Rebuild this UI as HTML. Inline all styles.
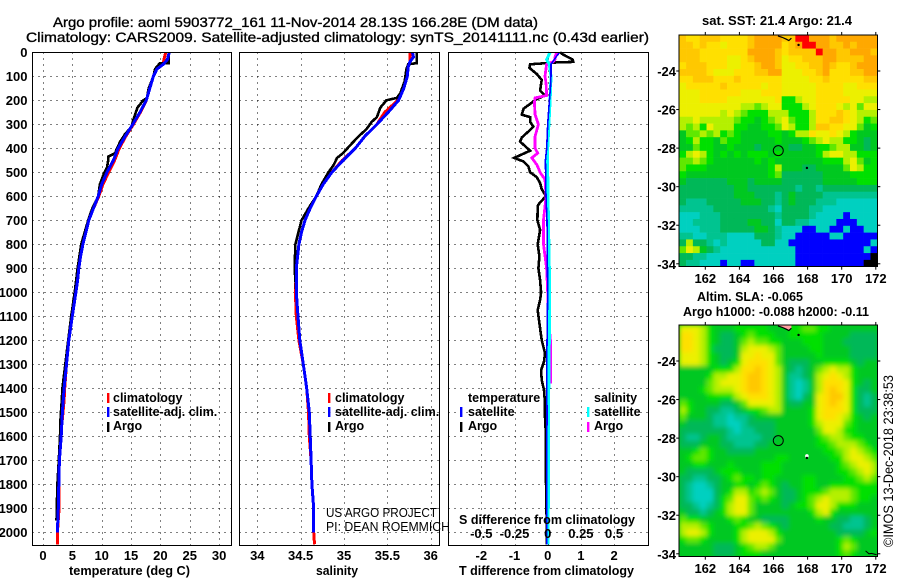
<!DOCTYPE html>
<html>
<head>
<meta charset="utf-8">
<title>Argo profile</title>
<style>
html,body{margin:0;padding:0;background:#fff;}
svg{display:block;}
text{font-family:"Liberation Sans",sans-serif;fill:#000;}
.b{font-weight:bold;font-size:13px;}
.t{font-size:14px;stroke:#000;stroke-width:.35px;}
.l{font-size:12.5px;font-weight:bold;}
</style>
</head>
<body>
<svg id="chart" xmlns="http://www.w3.org/2000/svg" width="900" height="580" viewBox="0 0 900 580">
<defs>
<filter id="smooth" x="-5%" y="-5%" width="110%" height="110%"><feGaussianBlur stdDeviation="2.4"/></filter>
<clipPath id="sla-clip"><rect x="679.3" y="325" width="198" height="231.8"/></clipPath>
</defs>
<rect x="0" y="0" width="900" height="580" fill="#fff"/>
<g id="plots"></g>
<text class="t" x="53" y="27" textLength="485" lengthAdjust="spacingAndGlyphs">Argo profile: aoml 5903772_161 11-Nov-2014 28.13S 166.28E (DM data)</text>
<text class="t" x="26" y="42" textLength="623" lengthAdjust="spacingAndGlyphs">Climatology: CARS2009. Satellite-adjusted climatology: synTS_20141111.nc (0.43d earlier)</text>
<text class="l" x="702" y="25" textLength="150" lengthAdjust="spacingAndGlyphs">sat. SST: 21.4 Argo: 21.4</text>
<text class="l" x="697" y="301" textLength="106" lengthAdjust="spacingAndGlyphs">Altim. SLA: -0.065</text>
<text class="l" x="683" y="316" textLength="186" lengthAdjust="spacingAndGlyphs">Argo h1000: -0.088 h2000: -0.11</text>
<text class="b" x="69" y="575" textLength="121" lengthAdjust="spacingAndGlyphs">temperature (deg C)</text>
<text class="b" x="316" y="575" textLength="42" lengthAdjust="spacingAndGlyphs">salinity</text>
<text class="b" x="459" y="575" textLength="175" lengthAdjust="spacingAndGlyphs">T difference from climatology</text>
<text class="b" x="459" y="524" textLength="176" lengthAdjust="spacingAndGlyphs">S difference from climatology</text>
<text x="326" y="517" font-size="12.5" textLength="111" lengthAdjust="spacingAndGlyphs">US ARGO PROJECT</text>
<text x="326" y="531" font-size="12.5" textLength="124" lengthAdjust="spacingAndGlyphs">PI: DEAN ROEMMICH</text>
<text transform="translate(893,547) rotate(-90)" font-size="13.5" textLength="172" lengthAdjust="spacingAndGlyphs">©IMOS 13-Dec-2018 23:38:53</text>
</svg>
<script>
// ---------- profile data ----------
const tempClimDepth = [0,30,50,70,100,150,200,250,300,350,400,450,500,550,600,650,700,750,800,850,900,950,1000,1100,1200,1300,1400,1450,1500,1550,1600,1700,1800,1900,2000,2050];
const tempClim = [20.9,20.6,20.5,19.4,18.8,18.2,17.6,16.6,15.4,14.1,13,12.2,11.2,10.2,9.5,8.6,7.8,7.3,6.8,6.4,6.1,5.9,5.6,5,4.4,4,3.7,3.6,3.4,3.2,3.1,2.8,2.7,2.75,2.45,2.45];
const tempSatDepth = [0,30,50,70,100,150,200,250,300,350,400,450,500,550,600,650,700,750,800,850,900,950,1000,1100,1200,1300,1400,1500,1600,1700,1800,1900,2000];
const tempSat = [21.5,21.2,20.5,19.4,18.8,18.2,17.6,16.5,15.3,14,12.8,12,10.9,10,9.4,8.6,7.8,7.3,6.8,6.4,6.1,5.9,5.6,5,4.4,4,3.6,3.3,3.1,2.8,2.7,2.6,2.45];
const tempArgoDepth = [0,45,46,60,70,100,150,190,200,230,280,310,340,370,400,420,435,450,480,510,550,600,650,700,800,900,1000,1100,1200,1300,1400,1450,1520,1600,1700,1800,1950];
const tempArgo = [21.4,21.4,19.9,19.4,19.1,18.8,18,17.7,17.1,16.1,15.4,15.1,14,13.2,12.6,12.3,11.1,11.1,10.9,10.3,9.7,9.4,8.4,7.7,6.5,5.9,5.4,4.8,4.3,3.8,3.3,3.2,3,2.9,2.7,2.45,2.3];

const salClimDepth = [0,20,40,60,100,150,200,250,300,350,400,450,500,550,600,650,700,750,800,900,1000,1100,1200,1300,1400,1500,1600,1700,1800,1900,2000,2050];
const salClim = [35.76,35.76,35.76,35.74,35.72,35.68,35.62,35.47,35.38,35.24,35.13,34.98,34.86,34.75,34.68,34.61,34.55,34.51,34.48,34.45,34.44,34.45,34.48,34.53,34.57,34.59,34.6,34.62,34.63,34.65,34.65,34.66];
const salSatDepth = [0,20,40,60,100,150,200,250,300,350,400,450,500,550,600,650,700,750,800,900,1000,1100,1200,1300,1400,1500,1600,1700,1800,1900,2000];
const salSat = [35.79,35.8,35.76,35.74,35.73,35.69,35.63,35.51,35.38,35.24,35.13,34.99,34.86,34.76,34.68,34.61,34.55,34.51,34.48,34.45,34.45,34.47,34.49,34.53,34.57,34.6,34.61,34.62,34.63,34.65,34.65];
const salArgoDepth = [0,45,50,70,120,170,190,200,230,270,290,320,350,380,420,440,470,500,550,600,650,700,800,900,1000,1100,1200];
const salArgo = [35.84,35.84,35.74,35.72,35.7,35.65,35.61,35.49,35.42,35.38,35.32,35.26,35.17,35.09,34.99,34.92,34.88,34.82,34.74,34.68,34.59,34.51,34.44,34.43,34.45,34.47,34.49];

const diffTArgoDepth = [0,10,30,40,42,50,65,90,115,160,180,195,210,235,260,270,290,310,330,355,372,410,440,455,475,500,520,545,570,600,625,640,700,740,800,850,900,950,1000,1032,1074,1129,1199,1254,1289,1324,1365,1407,1463,1519,1602,1782,1963,2050];
const diffTArgo = [.37,.47,.75,.77,.27,-.53,-.55,-.33,-.18,-.23,-.08,-.33,-.48,-.73,-.78,-.53,-.53,-.43,-.58,-.78,-.83,-.53,-1.01,-.73,-.58,-.53,-.33,-.23,-.18,-.05,-.23,-.3,-.31,-.23,-.3,-.25,-.28,-.23,-.2,-.23,-.3,-.25,-.18,-.08,-.11,-.2,-.18,-.11,-.08,-.08,-.05,-.05,-.03,-.02];
const diffTSatDepth = [0,10,30,50,100,150,200,300,400,450,600,700,1000,1300,1500,1900,2000,2050];
const diffTSat = [.37,.3,.2,.1,.1,.08,.05,0,-.03,-.07,-.05,-.02,0,-.03,-.02,-.03,-.03,-.03];
const diffSSatDepth = [0,30,50,100,200,400,500,700,900,1050,1200,1500,2000,2050];
const diffSSat = [.018,-.008,.012,.025,.018,0,0,.005,.012,.015,.012,.006,.004,.004];
const diffSArgoDepth = [0,20,30,40,50,100,130,180,190,210,260,300,350,400,420,440,470,500,530,600,700,800,900,1000,1100,1200,1280,1380];
const diffSArgo = [.068,.055,.055,.04,-.008,-.02,-.012,-.008,-.095,-.1,-.095,-.07,-.095,-.095,-.075,-.12,-.08,-.058,-.02,-.012,-.032,-.032,-.008,0,.005,.02,.022,.02];

// ---------- tick labels ----------
const depthTicks = [0,100,200,300,400,500,600,700,800,900,1000,1100,1200,1300,1400,1500,1600,1700,1800,1900,2000];
const tempTicks = [0,5,10,15,20,25,30];
const salTicks = [34,34.5,35,35.5,36];
const diffTTicks = [-2,-1,0,1,2];
const diffSTicks = [-0.5,-0.25,0,0.25,0.5];
const lonTicks = [162,164,166,168,170,172];
const latTicks = [-24,-26,-28,-30,-32,-34];
const profileLon = [166.28];
const profileLat = [-28.13];

// ---------- map grids (colour-level per cell) ----------
const sstLevels = [
[10,9,9,10,10,10,9,9,9,9,10,11,11,11,11,10,10,12,12,11,11,11,10,11,11,11,11,11,11],
[10,10,9,10,9,9,8,9,9,9,10,11,11,11,11,9,10,11,12,12,11,11,10,10,11,10,11,11,11],
[10,10,10,9,9,9,9,9,9,9,11,11,11,11,10,9,10,10,10,10,12,11,11,10,10,11,11,11,10],
[10,10,10,9,9,9,9,8,8,9,10,11,11,11,10,8,9,9,10,10,10,11,11,10,10,10,10,11,11],
[9,10,10,10,9,9,9,8,8,9,9,10,11,11,10,8,8,9,9,10,10,11,10,9,9,10,11,11,11],
[10,10,10,10,9,8,8,8,9,9,9,10,10,11,11,8,8,8,9,9,10,11,9,9,9,10,10,11,11],
[9,9,10,10,10,9,9,9,10,9,9,9,9,9,9,8,8,8,8,9,9,10,9,9,9,9,9,10,10],
[8,9,9,9,9,9,10,9,9,9,9,9,8,9,9,8,8,8,8,8,9,9,9,9,8,8,9,9,9],
[8,8,8,9,9,9,9,9,9,8,8,8,9,9,9,8,8,8,8,8,9,9,9,9,8,8,8,8,8],
[8,8,8,9,9,9,9,8,8,8,8,8,8,8,9,5,5,7,8,8,9,9,9,9,9,8,8,7,7],
[8,8,8,8,8,8,8,8,8,7,7,6,7,8,8,5,5,5,7,8,9,9,9,8,7,8,6,8,8],
[8,8,8,8,8,8,7,8,7,6,5,5,5,7,7,7,5,5,5,7,9,9,9,10,9,8,7,7,7],
[7,7,8,7,7,7,7,7,6,5,5,4,5,6,7,8,6,5,5,7,9,9,10,10,9,8,7,5,6],
[7,6,7,5,8,7,7,7,5,5,4,4,5,5,6,8,7,5,5,7,10,10,9,9,8,8,6,4,5],
[4,6,6,7,6,7,5,6,5,4,4,4,4,5,5,4,5,7,7,9,8,8,9,8,7,5,4,4,4],
[4,5,7,5,5,4,6,5,5,4,4,4,4,4,5,4,4,4,5,6,7,8,7,7,5,5,4,3,4],
[4,4,6,5,5,4,4,5,4,4,4,3,4,4,4,4,3,3,4,4,5,5,6,7,7,4,4,3,4],
[5,7,8,7,5,4,5,4,5,4,5,5,5,4,5,4,4,4,4,4,5,7,8,8,7,7,5,5,5],
[6,6,7,6,5,4,4,4,4,4,4,5,4,5,4,4,4,4,4,4,4,5,5,5,7,8,6,4,5],
[6,5,5,5,4,4,4,4,4,4,4,4,4,5,7,4,4,4,3,3,4,4,4,4,6,8,7,5,5],
[5,4,4,4,4,4,4,4,4,4,4,4,4,5,6,3,3,3,3,3,3,4,4,4,4,5,5,5,5],
[4,3,3,3,3,3,3,4,4,4,3,4,4,4,4,3,3,3,3,3,3,4,4,4,4,4,5,5,5],
[3,3,3,3,3,3,3,3,4,4,3,3,3,3,3,3,3,2,3,3,2,3,3,3,3,3,3,3,3],
[3,3,3,3,3,3,3,3,4,4,4,3,3,3,2,3,4,3,3,3,3,2,2,2,2,2,2,2,2],
[3,2,2,2,3,3,3,3,3,4,4,4,3,3,2,3,4,3,3,3,2,2,2,1,1,1,1,1,1],
[2,2,2,2,2,3,3,3,3,3,3,3,3,2,1,3,3,3,3,2,2,1,1,1,1,1,1,1,1],
[1,1,1,2,2,2,3,3,3,3,3,3,3,3,2,3,3,3,3,2,1,1,1,1,0,1,1,1,1],
[1,1,2,2,2,2,3,3,3,3,4,4,3,3,1,3,3,2,2,1,1,1,1,0,0,0,1,1,1],
[1,1,1,2,2,2,3,3,3,3,3,4,4,3,2,1,1,1,0,0,1,1,0,0,1,0,0,1,1],
[2,2,1,1,2,2,2,1,1,1,1,3,3,3,2,1,1,0,0,0,0,0,1,1,0,0,0,0,0],
[3,7,3,3,2,1,2,1,1,1,1,1,3,3,1,1,0,0,0,0,0,0,0,0,0,0,0,0,1],
[6,8,7,4,3,2,1,1,1,1,1,1,1,1,1,1,1,0,0,0,0,0,0,0,0,0,0,1,0],
[3,3,2,2,1,1,1,1,1,1,1,1,1,1,1,1,1,0,0,0,0,0,0,0,0,0,0,0,13],
[3,2,2,1,1,1,0,1,1,0,0,1,1,1,1,1,1,0,0,0,0,0,0,0,0,0,0,13,13]
];
const slaLevels = [
[8,8,8,7,5,4,4,4,5,5,5,5,5,4,4,4,5,5,6,6,5,5,4,4,4,4,4,4,4],
[9,9,8,7,5,4,3,3,4,5,6,5,5,5,4,4,5,5,5,5,5,4,4,4,4,3,3,3,3],
[9,9,8,7,5,4,3,3,4,6,7,6,6,5,5,4,4,4,5,5,5,4,4,4,3,3,3,3,3],
[9,9,8,7,5,3,3,3,4,7,8,8,8,7,6,4,4,4,4,5,5,4,4,4,4,3,3,3,3],
[8,8,8,7,5,4,3,3,4,8,8,9,8,8,6,4,4,4,4,4,5,4,4,4,4,3,3,3,3],
[8,8,8,7,5,4,3,4,5,8,9,9,9,8,6,4,3,3,3,4,4,5,5,5,5,4,3,4,4],
[4,4,4,4,4,5,5,5,7,9,9,10,9,8,7,4,3,2,3,4,6,7,8,7,7,5,4,4,4],
[4,4,4,4,5,7,7,8,8,9,10,10,9,8,7,4,2,2,3,4,7,8,9,8,7,5,4,4,4],
[4,4,4,4,6,7,8,8,8,9,10,10,9,8,7,4,2,1,2,4,7,9,9,9,8,5,4,3,4],
[4,4,4,5,6,7,7,7,8,9,10,10,9,8,7,4,2,1,2,4,7,9,10,9,8,5,3,3,4],
[4,4,4,4,5,5,5,5,7,8,9,9,9,8,7,4,2,1,3,4,8,9,10,10,8,5,3,2,3],
[6,5,4,4,4,4,3,3,4,6,8,8,8,8,7,4,3,3,4,4,8,9,10,9,8,5,3,2,3],
[7,5,4,4,3,3,2,2,3,4,5,5,6,7,7,4,4,4,4,5,8,9,9,9,8,5,3,3,3],
[6,4,4,4,3,2,2,1,2,2,3,4,4,4,4,4,4,4,4,5,8,9,9,8,7,5,4,3,4],
[4,3,3,3,3,2,2,1,1,2,3,3,3,3,4,4,4,4,4,5,7,8,8,8,6,5,4,4,4],
[3,3,3,3,3,3,3,2,1,2,2,3,3,3,4,4,4,4,4,4,6,8,8,7,5,5,4,4,4],
[3,2,2,3,4,4,3,2,2,2,2,2,3,3,4,4,4,4,4,4,5,6,7,7,6,5,5,4,4],
[3,3,3,4,4,4,3,3,2,2,2,3,3,4,4,4,4,4,4,4,5,5,6,7,7,7,6,5,4],
[4,4,5,6,5,4,4,3,3,3,3,4,4,4,4,4,4,4,4,4,4,5,5,6,7,8,7,6,5],
[4,5,6,6,5,4,4,4,4,4,4,4,4,4,5,5,4,4,4,4,4,4,5,5,7,8,8,7,6],
[4,4,5,5,4,4,4,5,4,4,4,4,5,5,5,4,4,4,4,4,4,4,4,5,6,7,8,8,7],
[4,3,3,3,3,4,5,5,5,4,4,4,5,5,5,4,4,4,4,4,4,4,4,5,5,6,7,8,7],
[3,3,2,2,3,3,4,5,6,5,5,4,5,5,4,4,4,4,5,5,4,4,4,4,5,5,6,7,6],
[3,2,1,1,2,3,4,4,5,5,4,5,6,5,4,3,4,4,5,5,4,4,5,5,5,5,5,5,5],
[3,2,1,1,1,3,4,5,7,7,5,6,7,6,4,3,3,4,5,5,5,6,7,7,7,6,5,5,5],
[3,2,1,1,1,3,5,6,8,8,6,5,6,5,4,3,3,4,5,6,7,8,7,7,7,6,5,5,4],
[3,3,2,1,2,3,5,7,8,8,6,4,4,4,4,3,4,5,5,6,8,8,7,5,5,5,4,4,4],
[4,3,3,2,3,4,5,7,8,8,6,4,4,4,4,4,4,4,4,5,7,8,5,4,4,4,4,4,4],
[6,5,5,4,4,4,4,5,6,5,4,4,3,3,3,3,4,4,4,4,5,4,4,3,3,2,2,3,4],
[7,7,7,6,5,4,4,4,5,5,6,7,6,5,4,3,4,4,4,4,4,4,3,3,2,2,2,3,4],
[7,8,8,7,5,4,4,4,5,7,8,8,8,7,5,4,4,4,4,4,4,4,4,3,3,3,3,4,5],
[5,6,6,5,4,4,4,4,5,7,8,8,8,8,6,4,4,4,4,4,4,4,4,5,6,5,4,4,4],
[4,4,4,4,4,3,3,3,4,5,6,7,7,6,4,4,4,4,4,4,4,4,4,5,7,6,4,4,4],
[4,4,4,4,4,3,3,3,4,5,5,5,4,4,4,4,4,4,4,4,4,4,4,5,6,5,4,4,4]
];
const coastLon = [166.26,166.5,166.75,166.9,167.05];
const coastLat = [-22.18,-22.25,-22.35,-22.42,-22.3];
const islandLon = [167.47,167.96];
const islandLat = [-22.65,-29.03];
const southCoastLon = [171.4,171.6,171.75,172.05];
const southCoastLat = [-33.85,-34,-33.98,-34.05];

// ---------- styling ----------
const levelColours = ['#0000ff','#00d0c0','#00c490','#00b858','#00c820','#00e000','#60e800','#b4f000','#ecf000','#ffe000','#ffc800','#ffa800','#ff0000','#000000'];
const NS = 'http://www.w3.org/2000/svg';
const root = document.getElementById('plots');

function make(tag, attrs, parent) {
  const el = document.createElementNS(NS, tag);
  for (const k in attrs) el.setAttribute(k, attrs[k]);
  (parent || root).appendChild(el);
  return el;
}

// ---------- axis functions ----------
const yDepth = d => 52.3 + d * 0.24;
const xTemp = v => 43 + v * 5.87;
const xSal = v => 257.3 + (v - 34) * 86.7;
const xDiffT = v => 547.7 + v * 33.2;
const xDiffS = v => 547.7 + v * 132.8;
const lonX = v => 705.3 + (v - 162) * 17.05;
const latOffset = v => (-24 - v) * 19.28;
const lonMin = 160.47, lonMax = 172.09, latMax = -22.13, latMin = -34.15;

const panels = [
  {key:'temperature', left:32.5, right:231.5},
  {key:'salinity', left:239.5, right:439.5},
  {key:'difference', left:448.5, right:648.5}
];
const panelTop = 52.5, panelBottom = 545.5;

function series(xs, ds, xf, colour, width, name, parent) {
  const pts = xs.map((v, i) => xf(v).toFixed(1) + ',' + yDepth(ds[i]).toFixed(1)).join(' ');
  const el = make('polyline', {points: pts, fill: 'none', stroke: colour, 'stroke-width': width, 'shape-rendering': 'crispEdges'}, parent);
  
  
}

function label(str, x, y, anchor, cls, parent) {
  const t = make('text', {x: x, y: y, 'text-anchor': anchor, class: cls}, parent);
  t.textContent = str;
  
  
  return t;
}

function grid(x1, y1, x2, y2) {
  const g = make('line', {x1: x1, y1: y1, x2: x2, y2: y2, stroke: '#000', 'stroke-width': 1, 'stroke-dasharray': '1 5', 'shape-rendering': 'crispEdges'});
  
  
}

function frame(x, y, w, h, nameStr) {
  const r = make('rect', {x: x, y: y, width: w, height: h, fill: 'none', stroke: '#000', 'stroke-width': 1.4, 'shape-rendering': 'crispEdges'});
  
  
}

function legendBar(x, y, colour) {
  const r = make('rect', {x: x, y: y, width: 2.4, height: 10, fill: colour});
  
  
}

function legendText(str, x, y) {
  const t = make('text', {x: x, y: y, class: 'l'});
  t.textContent = str;
  
  
}

// ---------- profile panels ----------
panels.forEach(p => {
  depthTicks.forEach(d => grid(p.left, Math.round(yDepth(d)) + .5, p.right, Math.round(yDepth(d)) + .5));
});
tempTicks.forEach(v => grid(Math.round(xTemp(v)) + .5, panelTop, Math.round(xTemp(v)) + .5, panelBottom));
salTicks.forEach(v => grid(Math.round(xSal(v)) + .5, panelTop, Math.round(xSal(v)) + .5, panelBottom));
diffTTicks.forEach(v => grid(Math.round(xDiffT(v)) + .5, panelTop, Math.round(xDiffT(v)) + .5, panelBottom));

series(tempClim, tempClimDepth, xTemp, '#ff0000', 3, 'temperature-climatology-line');
series(tempArgo, tempArgoDepth, xTemp, '#000000', 2.6, 'temperature-argo-line');
series(tempSat, tempSatDepth, xTemp, '#0000ff', 3, 'temperature-satellite-line');
series(salClim, salClimDepth, xSal, '#ff0000', 3, 'salinity-climatology-line');
series(salArgo, salArgoDepth, xSal, '#000000', 2.6, 'salinity-argo-line');
series(salSat, salSatDepth, xSal, '#0000ff', 3, 'salinity-satellite-line');
series(diffTArgo, diffTArgoDepth, xDiffT, '#000000', 2.6, 't-difference-argo-line');
series(diffSArgo, diffSArgoDepth, xDiffS, '#ff00ff', 2.8, 's-difference-argo-line');
series(diffSSat, diffSSatDepth, xDiffS, '#00ffff', 3, 's-difference-satellite-line');
series(diffTSat, diffTSatDepth, xDiffT, '#0000ff', 1.6, 't-difference-satellite-line');

panels.forEach(p => frame(p.left, panelTop, p.right - p.left, panelBottom - panelTop, p.key + '-panel-frame'));

depthTicks.forEach(d => label(String(d), 27.5, yDepth(d) + 4.5, 'end', 'b'));
tempTicks.forEach(v => label(String(v), xTemp(v), 560, 'middle', 'b'));
salTicks.forEach(v => label(String(v), xSal(v), 560, 'middle', 'b'));
diffTTicks.forEach(v => label(String(v), xDiffT(v), 560, 'middle', 'b'));
diffSTicks.forEach(v => label(String(v), xDiffS(v), 538, 'middle', 'b'));

// legends
legendBar(107, 393, '#ff0000'); legendText('climatology', 113, 402);
legendBar(107, 407, '#0000ff'); legendText('satellite-adj. clim.', 113, 416);
legendBar(107, 422, '#000000'); legendText('Argo', 113, 430);
legendBar(328, 393, '#ff0000'); legendText('climatology', 335, 402);
legendBar(328, 407, '#0000ff'); legendText('satellite-adj. clim.', 335, 416);
legendBar(328, 422, '#000000'); legendText('Argo', 335, 430);
legendText('temperature', 468, 402);
legendBar(460, 407, '#0000ff'); legendText('satellite', 468, 416);
legendBar(460, 422, '#000000'); legendText('Argo', 468, 430);
legendText('salinity', 594, 402);
legendBar(587, 407, '#00ffff'); legendText('satellite', 594, 416);
legendBar(587, 422, '#ff00ff'); legendText('Argo', 594, 430);

// ---------- maps ----------
function drawMap(levels, top, cellName, smooth) {
  const latY = v => top + 36 + latOffset(v);
  const rows = levels.length, cols = levels[0].length;
  const dLon = (lonMax - lonMin) / cols, dLat = (latMax - latMin) / rows;
  const x0 = lonX(lonMin), x1 = lonX(lonMax), y0 = latY(latMax), y1 = latY(latMin);
  const outer = make('g', smooth ? {'clip-path': 'url(#sla-clip)'} : {});
  
  
  if (smooth) {
    const base = make('rect', {x: x0, y: y0, width: x1 - x0, height: y1 - y0, fill: levelColours[4]}, outer);
    
    
  }
  const cells = make('g', smooth ? {filter: 'url(#smooth)'} : {}, outer);
  
  
  levels.forEach((row, r) => {
    row.forEach((lev, c) => {
      const cx0 = lonX(lonMin + c * dLon), cx1 = lonX(lonMin + (c + 1) * dLon);
      const cy0 = latY(latMax - r * dLat), cy1 = latY(latMax - (r + 1) * dLat);
      const cell = make('rect', {x: cx0.toFixed(2), y: cy0.toFixed(2), width: (cx1 - cx0 + .3).toFixed(2), height: (cy1 - cy0 + .3).toFixed(2), fill: levelColours[lev]}, cells);
      
      
    });
  });
  lonTicks.forEach(v => {
    [[y0 - 3, y0], [y1, y1 + 3]].forEach(s => {
      const t = make('line', {x1: lonX(v), x2: lonX(v), y1: s[0], y2: s[1], stroke: '#000', 'stroke-width': 1});
      
      
    });
    label(String(v), lonX(v), top + 248, 'middle', 'b');
  });
  latTicks.forEach(v => {
    [[x0 - 3, x0], [x1, x1 + 3]].forEach(s => {
      const t = make('line', {x1: s[0], x2: s[1], y1: latY(v), y2: latY(v), stroke: '#000', 'stroke-width': 1});
      
      
    });
    label(String(v), 676, latY(v) + 5, 'end', 'b');
  });
  // coast
  if (smooth) {
    const land = make('polygon', {points: coastLon.map((v, i) => lonX(v) + ',' + latY(coastLat[i])).join(' ') + ' ' + lonX(coastLon[4]) + ',' + y0 + ' ' + lonX(coastLon[0]) + ',' + y0, fill: '#ffa0a0'});
    
    
    const spot = make('circle', {cx: lonX(islandLon[1]), cy: latY(islandLat[1]) - 2, r: 1.8, fill: '#fff'});
    
    
  }
  const coast = make('polyline', {points: coastLon.map((v, i) => lonX(v) + ',' + latY(coastLat[i])).join(' '), fill: 'none', stroke: '#000', 'stroke-width': 1.2});
  
  
  const south = make('polyline', {points: southCoastLon.map((v, i) => lonX(v) + ',' + latY(southCoastLat[i])).join(' '), fill: 'none', stroke: '#000', 'stroke-width': 1});
  
  
  islandLon.forEach((v, i) => {
    const isl = make('circle', {cx: lonX(v), cy: latY(islandLat[i]), r: 1.2, fill: '#000'});
    
    
  });
  const pos = make('circle', {cx: lonX(profileLon[0]), cy: latY(profileLat[0]), r: 5, fill: 'none', stroke: '#000', 'stroke-width': 1});
  
  
  const fr = make('rect', {x: x0, y: y0, width: x1 - x0, height: y1 - y0, fill: 'none', stroke: '#000', 'stroke-width': 1, 'shape-rendering': 'crispEdges'});
  
  
}
drawMap(sstLevels, 35, 'sst-cell', false);
drawMap(slaLevels, 325, 'sla-cell', true);
</script>
</body>
</html>
